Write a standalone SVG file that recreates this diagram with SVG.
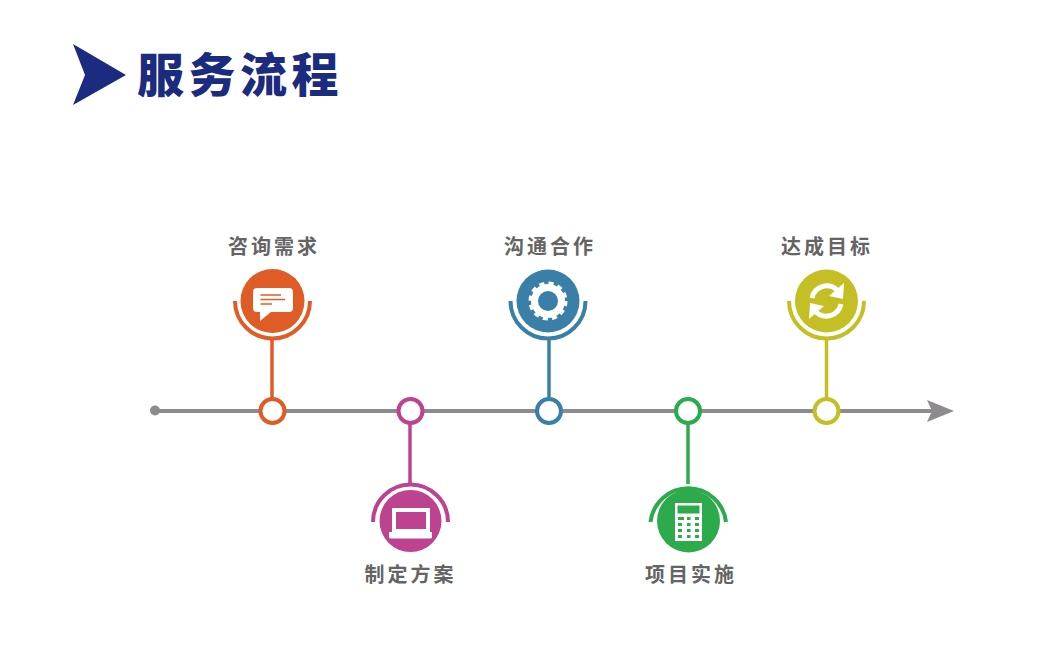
<svg xmlns="http://www.w3.org/2000/svg" width="1050" height="649" viewBox="0 0 1050 649">
<style>
text{font-family:"Noto Sans CJK SC","Liberation Sans",sans-serif}
.t{font-size:47px;font-weight:900;fill:#1b2b80;letter-spacing:4.500px}
.l{font-size:20px;font-weight:700;fill:#646464;letter-spacing:3px;text-anchor:middle}
.arc,.link,.j{fill:none;stroke-width:4}
.j{fill:#fff}
.link{stroke-width:3.500px}
.ic{fill:#fff}
.o{stroke:#df5c26}.p{stroke:#bd4391}.b{stroke:#3a7fa8}.g{stroke:#2dab4c}.y{stroke:#c4bf25}
</style>
<rect width="1050" height="649" fill="#fff"/>
<g id="title">
<polygon points="73,44 126,75 73,105 85,75" fill="#1b2b80"/>
<text class="t" x="137" y="92">服务流程</text>
</g>
<g id="connectors">
<line x1="155" y1="411" x2="932" y2="411" stroke="#8f8a90" stroke-width="4"/>
<circle cx="155" cy="410.500" r="5" fill="#8f8a90"/>
<polygon points="927,400 954,411 927,422 932,411" fill="#8f8a90"/>
<line class="link o" x1="272" y1="338" x2="272" y2="400"/>
<line class="link p" x1="410" y1="422" x2="410" y2="484"/>
<line class="link b" x1="549" y1="338" x2="549" y2="400"/>
<line class="link g" x1="688" y1="422" x2="688" y2="484"/>
<line class="link y" x1="826.500" y1="338" x2="826.500" y2="400"/>
</g>
<g id="node-1">
<text class="l" x="274" y="254">咨询需求</text>
<circle cx="272.500" cy="301" r="32" fill="#df5c26"/>
<path class="arc o" d="M235 301A37.500 37.500 0 0 0 310 301"/>
<circle class="j o" cx="272.500" cy="411" r="12"/>
<path class="ic" d="M257 288H289Q293 288 293 292V308Q293 312 289 312H271L260 321V312H257Q253 312 253 308V292Q253 288 257 288Z"/>
<path d="M260.500 295H281M260.500 299.500H285M260.500 304H272" stroke="#df5c26" stroke-width="1.700" fill="none"/>
</g>
<g id="node-2">
<text class="l" x="410.500" y="582">制定方案</text>
<circle cx="410.500" cy="521" r="31" fill="#bd4391"/>
<path class="arc p" d="M373 522A37.500 37.500 0 0 1 448 522"/>
<circle class="j p" cx="410.500" cy="411" r="12"/>
<path class="ic" fill-rule="evenodd" d="M392 508H430V533H392ZM396 512V529H426V512Z"/>
<path class="ic" d="M389 532H432V537Q432 538.500 430 538.500H391Q389 538.500 389 537Z"/>
</g>
<g id="node-3">
<text class="l" x="550" y="254">沟通合作</text>
<circle cx="548" cy="301" r="31.500" fill="#3a7fa8"/>
<path class="arc b" d="M510.500 301A37.500 37.500 0 0 0 585.500 301"/>
<circle class="j b" cx="549" cy="411" r="12"/>
<circle cx="548" cy="301" r="13.500" fill="none" stroke="#fff" stroke-width="7"/>
<circle cx="548" cy="301" r="17.500" fill="none" stroke="#fff" stroke-width="4" stroke-dasharray="5 4.160"/>
</g>
<g id="node-4">
<text class="l" x="691" y="582">项目实施</text>
<circle cx="688.500" cy="521" r="31.500" fill="#2dab4c"/>
<path class="arc g" d="M650.500 522A38 38 0 0 1 726 522"/>
<circle class="j g" cx="688" cy="411" r="12"/>
<rect class="ic" x="675" y="503" width="27" height="38"/>
<rect x="677.500" y="505.500" width="22" height="8" fill="#2dab4c"/>
<path d="M678 518.500H684M687 518.500H690.500M695 518.500H699M678 524.500H682M687 524.500H690.500M695 524.500H699M678 530.500H682M687 530.500H690.500M695 530.500H699M678 536.500H682M687 536.500H690.500M695 536.500H699" stroke="#2dab4c" stroke-width="3" fill="none"/>
</g>
<g id="node-5">
<text class="l" x="827" y="254">达成目标</text>
<circle cx="826.500" cy="301" r="31.500" fill="#c4bf25"/>
<path class="arc y" d="M789 301A37.500 37.500 0 0 0 864 301"/>
<circle class="j y" cx="826.500" cy="411" r="12"/>
<path d="M812 298A15 15 0 0 1 837 290" fill="none" stroke="#fff" stroke-width="5"/>
<polygon class="ic" points="844,283 843,299 829,296"/>
<path d="M841 304A15 15 0 0 1 816 312" fill="none" stroke="#fff" stroke-width="5"/>
<polygon class="ic" points="809,319 810,303 824,306"/>
</g>
</svg>
